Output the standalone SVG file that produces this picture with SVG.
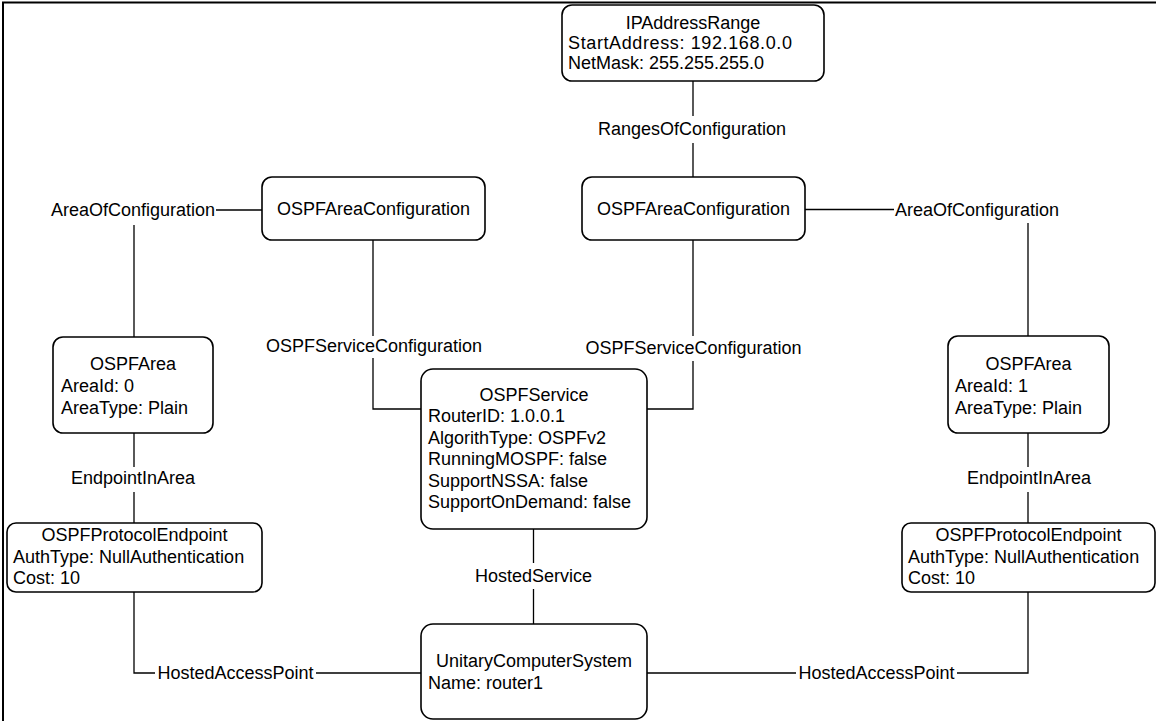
<svg xmlns="http://www.w3.org/2000/svg" width="1156" height="721" viewBox="0 0 1156 721">
  <style>
    .box { fill: #ffffff; stroke: #000000; stroke-width: 1.6; }
    .wire { fill: none; stroke: #000000; stroke-width: 1.3; }
    text { font-family: "Liberation Sans", Arial, sans-serif; font-size: 18px; fill: #000000; }
    .c { text-anchor: middle; }
  </style>

  <rect width="1156" height="721" fill="#ffffff"/>
  <!-- page frame (left and top edges fall inside the canvas) -->
  <rect x="3" y="2.5" width="1170" height="740" fill="none" stroke="#000000" stroke-width="2"/>

  <!-- connectors and association labels -->
  <g id="connectors">
    <!-- RangesOfConfiguration -->
    <path class="wire" d="M693 81 V116 M693 143 V177"/>
    <text class="c" x="692" y="135">RangesOfConfiguration</text>

    <!-- AreaOfConfiguration (left) -->
    <path class="wire" d="M216 210 H262 M134 225 V337"/>
    <text class="c" x="133" y="216">AreaOfConfiguration</text>

    <!-- AreaOfConfiguration (right) -->
    <path class="wire" d="M805 209.5 H894 M1028 223 V336"/>
    <text class="c" x="977" y="216">AreaOfConfiguration</text>

    <!-- OSPFServiceConfiguration (left) -->
    <path class="wire" d="M373 240 V336 M373 358 V409 H421"/>
    <text class="c" x="374" y="352">OSPFServiceConfiguration</text>

    <!-- OSPFServiceConfiguration (right) -->
    <path class="wire" d="M693 240 V336 M693 361 V409 H647"/>
    <text class="c" x="693.5" y="354">OSPFServiceConfiguration</text>

    <!-- EndpointInArea (left / right) -->
    <path class="wire" d="M134 433 V467 M134 492 V523"/>
    <text class="c" x="133" y="484">EndpointInArea</text>
    <path class="wire" d="M1028 433 V467 M1028 492 V523"/>
    <text class="c" x="1029" y="484">EndpointInArea</text>

    <!-- HostedService -->
    <path class="wire" d="M533.5 529 V563 M533.5 589 V624"/>
    <text class="c" x="533.5" y="582">HostedService</text>

    <!-- HostedAccessPoint (left / right) -->
    <path class="wire" d="M134 592 V673 H155 M316 673 H421"/>
    <text class="c" x="235.5" y="679">HostedAccessPoint</text>
    <path class="wire" d="M647 673 H796 M957 673 H1028 V592"/>
    <text class="c" x="876.5" y="679">HostedAccessPoint</text>
  </g>

  <g id="ip-address-range">
    <rect class="box" x="562" y="5" width="262" height="76" rx="10"/>
    <text class="c" x="693" y="29">IPAddressRange</text>
    <text x="568" y="49" textLength="224" lengthAdjust="spacing">StartAddress: 192.168.0.0</text>
    <text x="568" y="69">NetMask: 255.255.255.0</text>
  </g>

  <g id="area-configuration-left">
    <rect class="box" x="262" y="177" width="223" height="63" rx="10"/>
    <text class="c" x="373.5" y="215">OSPFAreaConfiguration</text>
  </g>

  <g id="area-configuration-right">
    <rect class="box" x="582" y="177" width="223" height="63" rx="10"/>
    <text class="c" x="693.5" y="215">OSPFAreaConfiguration</text>
  </g>

  <g id="ospf-area-0">
    <rect class="box" x="53" y="337" width="160" height="96" rx="10"/>
    <text class="c" x="133" y="370">OSPFArea</text>
    <text x="61" y="392">AreaId: 0</text>
    <text x="61" y="414">AreaType: Plain</text>
  </g>

  <g id="ospf-area-1">
    <rect class="box" x="948" y="336" width="161" height="97" rx="10"/>
    <text class="c" x="1028.5" y="370">OSPFArea</text>
    <text x="955" y="392">AreaId: 1</text>
    <text x="955" y="414">AreaType: Plain</text>
  </g>

  <g id="ospf-service">
    <rect class="box" x="421" y="369" width="226" height="160" rx="12"/>
    <text class="c" x="534" y="401">OSPFService</text>
    <text x="428" y="422">RouterID: 1.0.0.1</text>
    <text x="428" y="443.5">AlgorithType: OSPFv2</text>
    <text x="428" y="465">RunningMOSPF: false</text>
    <text x="428" y="486.5">SupportNSSA: false</text>
    <text x="428" y="508">SupportOnDemand: false</text>
  </g>

  <g id="endpoint-left">
    <rect class="box" x="7" y="523" width="255" height="69" rx="9"/>
    <text class="c" x="134.5" y="541">OSPFProtocolEndpoint</text>
    <text x="13" y="563">AuthType: NullAuthentication</text>
    <text x="13" y="584">Cost: 10</text>
  </g>

  <g id="endpoint-right">
    <rect class="box" x="902" y="523" width="253" height="69" rx="9"/>
    <text class="c" x="1028.5" y="541">OSPFProtocolEndpoint</text>
    <text x="908" y="563">AuthType: NullAuthentication</text>
    <text x="908" y="584">Cost: 10</text>
  </g>

  <g id="computer-system">
    <rect class="box" x="421" y="624" width="226" height="95" rx="12"/>
    <text class="c" x="534" y="667">UnitaryComputerSystem</text>
    <text x="428" y="689">Name: router1</text>
  </g>
</svg>
